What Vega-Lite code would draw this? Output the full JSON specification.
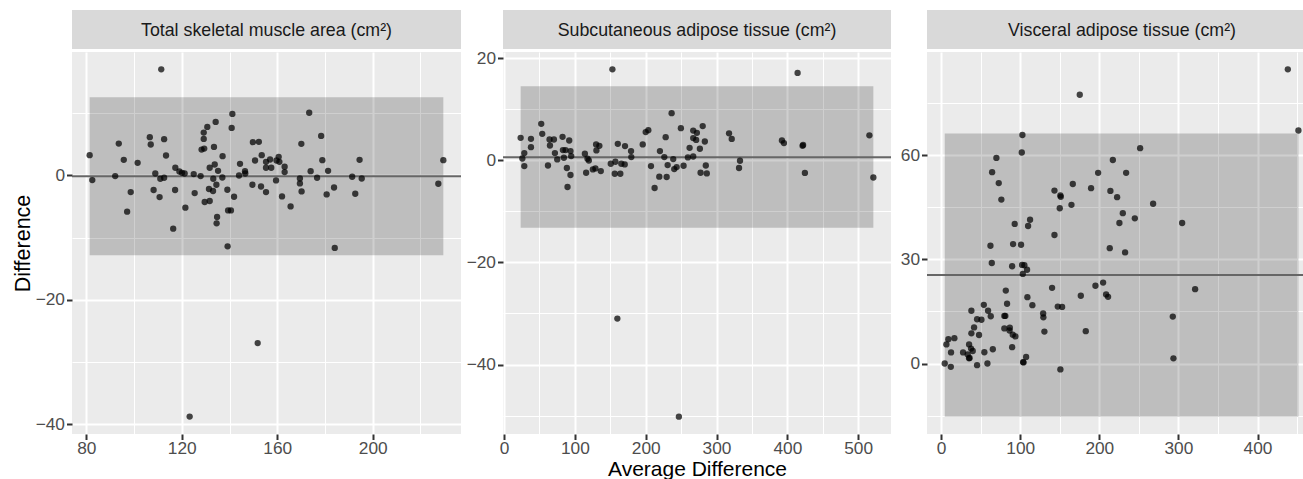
{
  "$schema": "https://vega.github.io/schema/vega-lite/v6.json",
  "padding": {"left": 12, "top": 10, "right": 0, "bottom": 0},
  "background": "white",
  "spacing": 0,
  "config": {
    "view": {"stroke": null},
    "axis": {
      "domain": false, "grid": true, "gridColor": "white",
      "tickColor": "#333333", "tickWidth": 2, "tickSize": 5.5,
      "labelFont": "Liberation Sans", "labelFontSize": 17.3, "labelColor": "#4D4D4D",
      "labelPadding": 3, "labelOverlap": false, "labelFlush": false,
      "titleFont": "Liberation Sans", "titleFontSize": 21.5, "titleFontWeight": "normal", "titleColor": "black"
    },
    "axisY": {"labelPadding": 2, "titlePadding": 1},
    "axisX": {"labelPadding": 0, "titlePadding": 2, "titleFontSize": 21},
    "text": {"font": "Liberation Sans", "fontSize": 17.8, "color": "#1A1A1A"}
  },
  "datasets": {
    "loa": [
      {"p": "A", "xmin": 81.4, "xmax": 229.6, "lo": -12.84, "hi": 12.58, "mean": -0.13},
      {"p": "B", "xmin": 23.4, "xmax": 521.5, "lo": -13.2, "hi": 14.5, "mean": 0.6},
      {"p": "C", "xmin": 4.6, "xmax": 451.7, "lo": -15.3, "hi": 66.2, "mean": 25.5}
    ],
    "tsm": [
      {"avg": 81.4, "diff": 3.27}, {"avg": 82.5, "diff": -0.74}, {"avg": 93.6, "diff": 5.14}, {"avg": 95.7, "diff": 2.52},
      {"avg": 92.1, "diff": -0.1}, {"avg": 98.6, "diff": -2.67}, {"avg": 97.1, "diff": -5.83}, {"avg": 101.5, "diff": 2.04},
      {"avg": 106.6, "diff": 6.16}, {"avg": 107.0, "diff": 4.98}, {"avg": 112.6, "diff": 5.84}, {"avg": 113.4, "diff": 3.21},
      {"avg": 108.9, "diff": 0.32}, {"avg": 111.0, "diff": -0.53}, {"avg": 112.6, "diff": -0.37}, {"avg": 108.2, "diff": -2.34},
      {"avg": 110.7, "diff": -3.47}, {"avg": 116.4, "diff": -8.56}, {"avg": 117.2, "diff": -2.34}, {"avg": 117.3, "diff": 1.24},
      {"avg": 119.0, "diff": 0.64}, {"avg": 120.1, "diff": 0.43}, {"avg": 121.2, "diff": 0.32}, {"avg": 121.5, "diff": -5.18},
      {"avg": 125.0, "diff": 0.22}, {"avg": 125.4, "diff": -2.83}, {"avg": 127.9, "diff": -0.1}, {"avg": 128.3, "diff": 4.17},
      {"avg": 129.4, "diff": 4.33}, {"avg": 129.2, "diff": 5.89}, {"avg": 129.2, "diff": 6.9}, {"avg": 130.7, "diff": 7.82},
      {"avg": 134.2, "diff": 8.62}, {"avg": 133.5, "diff": 4.6}, {"avg": 131.7, "diff": 1.24}, {"avg": 133.8, "diff": 1.77},
      {"avg": 135.2, "diff": 0.75}, {"avg": 133.2, "diff": -0.53}, {"avg": 134.5, "diff": -1.49}, {"avg": 131.4, "diff": -2.18},
      {"avg": 133.1, "diff": -2.5}, {"avg": 129.6, "diff": -4.27}, {"avg": 131.7, "diff": -4.11}, {"avg": 134.8, "diff": -6.68},
      {"avg": 134.6, "diff": -7.7}, {"avg": 137.1, "diff": 3.11}, {"avg": 137.0, "diff": -0.32}, {"avg": 139.1, "diff": -2.3},
      {"avg": 139.4, "diff": -5.62}, {"avg": 140.6, "diff": -5.62}, {"avg": 139.2, "diff": -11.4}, {"avg": 141.2, "diff": 9.9},
      {"avg": 140.9, "diff": 7.66}, {"avg": 141.9, "diff": -3.42}, {"avg": 144.4, "diff": 1.88}, {"avg": 144.0, "diff": 0.0},
      {"avg": 146.5, "diff": 0.7}, {"avg": 146.6, "diff": 0.32}, {"avg": 149.6, "diff": -1.49}, {"avg": 149.8, "diff": 5.36},
      {"avg": 152.3, "diff": 5.41}, {"avg": 150.7, "diff": 2.41}, {"avg": 153.5, "diff": 3.27}, {"avg": 153.2, "diff": -1.77},
      {"avg": 155.3, "diff": -2.67}, {"avg": 155.3, "diff": 2.2}, {"avg": 155.3, "diff": 1.24}, {"avg": 157.0, "diff": 2.57},
      {"avg": 157.5, "diff": 1.24}, {"avg": 159.7, "diff": 2.41}, {"avg": 160.6, "diff": 3.0}, {"avg": 160.9, "diff": 2.2},
      {"avg": 163.1, "diff": 1.4}, {"avg": 163.1, "diff": 0.54}, {"avg": 159.5, "diff": -0.8}, {"avg": 162.0, "diff": -3.37},
      {"avg": 165.6, "diff": -4.98}, {"avg": 169.5, "diff": -0.48}, {"avg": 169.5, "diff": -1.28}, {"avg": 170.2, "diff": -2.57},
      {"avg": 170.1, "diff": 5.09}, {"avg": 173.4, "diff": 10.1}, {"avg": 174.0, "diff": 0.7}, {"avg": 176.7, "diff": -0.37},
      {"avg": 178.4, "diff": 6.37}, {"avg": 178.9, "diff": 2.47}, {"avg": 181.3, "diff": 0.75}, {"avg": 180.7, "diff": -3.05},
      {"avg": 183.8, "diff": -1.93}, {"avg": 184.1, "diff": -11.65}, {"avg": 191.4, "diff": -0.21}, {"avg": 195.4, "diff": -0.48},
      {"avg": 194.5, "diff": 2.52}, {"avg": 192.7, "diff": -2.94}, {"avg": 229.6, "diff": 2.47}, {"avg": 227.5, "diff": -1.33},
      {"avg": 111.4, "diff": 17.08}, {"avg": 151.8, "diff": -26.97}, {"avg": 123.3, "diff": -38.8}
    ],
    "sat": [
      {"avg": 23.4, "diff": 4.39}, {"avg": 25.8, "diff": 0.35}, {"avg": 28.6, "diff": 1.4}, {"avg": 28.6, "diff": -1.13},
      {"avg": 38.0, "diff": 4.2}, {"avg": 38.0, "diff": 2.57}, {"avg": 52.5, "diff": 7.13}, {"avg": 53.9, "diff": 5.18},
      {"avg": 64.2, "diff": 4.06}, {"avg": 70.4, "diff": 4.06}, {"avg": 64.8, "diff": 2.89}, {"avg": 62.0, "diff": -1.02},
      {"avg": 71.8, "diff": 1.4}, {"avg": 75.1, "diff": 0.16}, {"avg": 82.6, "diff": 4.59}, {"avg": 92.0, "diff": 3.87},
      {"avg": 83.1, "diff": 1.99}, {"avg": 86.8, "diff": 1.99}, {"avg": 84.5, "diff": 0.49}, {"avg": 93.8, "diff": 1.8},
      {"avg": 94.8, "diff": 0.82}, {"avg": 88.7, "diff": -1.52}, {"avg": 93.8, "diff": -2.89}, {"avg": 89.6, "diff": -5.23},
      {"avg": 114.1, "diff": 1.27}, {"avg": 117.8, "diff": 0.29}, {"avg": 119.7, "diff": -0.04}, {"avg": 115.9, "diff": -2.44},
      {"avg": 125.4, "diff": -1.8}, {"avg": 129.0, "diff": -1.6}, {"avg": 136.6, "diff": -2.11}, {"avg": 130.0, "diff": 3.1},
      {"avg": 134.6, "diff": 2.83}, {"avg": 130.4, "diff": 1.93}, {"avg": 150.7, "diff": -0.68}, {"avg": 157.2, "diff": -0.29},
      {"avg": 165.6, "diff": -0.68}, {"avg": 170.4, "diff": -0.82}, {"avg": 156.3, "diff": -2.64}, {"avg": 164.2, "diff": -2.64},
      {"avg": 160.6, "diff": 3.22}, {"avg": 170.8, "diff": 2.77}, {"avg": 179.3, "diff": 1.8}, {"avg": 179.7, "diff": 0.62},
      {"avg": 195.8, "diff": 3.1}, {"avg": 200.0, "diff": 5.52}, {"avg": 203.7, "diff": 5.9}, {"avg": 207.5, "diff": -1.13},
      {"avg": 212.6, "diff": -5.43}, {"avg": 219.2, "diff": -3.22}, {"avg": 220.1, "diff": 1.8}, {"avg": 226.3, "diff": 0.62},
      {"avg": 228.2, "diff": 4.53}, {"avg": 229.6, "diff": -3.28}, {"avg": 231.0, "diff": -0.94}, {"avg": 236.6, "diff": 9.22},
      {"avg": 238.9, "diff": 0.23}, {"avg": 240.3, "diff": -1.72}, {"avg": 243.7, "diff": -1.33}, {"avg": 249.7, "diff": 6.29},
      {"avg": 253.5, "diff": -1.07}, {"avg": 259.6, "diff": 0.55}, {"avg": 262.0, "diff": 2.44}, {"avg": 267.1, "diff": 5.82},
      {"avg": 267.1, "diff": 4.34}, {"avg": 272.3, "diff": 5.37}, {"avg": 271.3, "diff": 3.98}, {"avg": 267.1, "diff": 0.74},
      {"avg": 276.5, "diff": 2.25}, {"avg": 277.5, "diff": -2.44}, {"avg": 280.5, "diff": 6.7}, {"avg": 283.5, "diff": 3.67},
      {"avg": 284.9, "diff": -1.02}, {"avg": 286.3, "diff": -2.58}, {"avg": 317.7, "diff": 5.27}, {"avg": 321.5, "diff": 4.18},
      {"avg": 333.2, "diff": -0.1}, {"avg": 331.8, "diff": -1.52}, {"avg": 392.4, "diff": 3.87}, {"avg": 395.2, "diff": 3.36},
      {"avg": 421.5, "diff": 2.83}, {"avg": 422.3, "diff": 3.0}, {"avg": 424.8, "diff": -2.48}, {"avg": 515.9, "diff": 4.88},
      {"avg": 521.5, "diff": -3.38}, {"avg": 153.0, "diff": 17.8}, {"avg": 414.5, "diff": 17.1}, {"avg": 160.0, "diff": -31.0},
      {"avg": 246.9, "diff": -50.2}
    ],
    "vat": [
      {"avg": 175.3, "diff": 77.4}, {"avg": 102.8, "diff": 65.8}, {"avg": 102.0, "diff": 60.75}, {"avg": 69.9, "diff": 59.2},
      {"avg": 64.5, "diff": 55.1}, {"avg": 72.9, "diff": 51.95}, {"avg": 76.2, "diff": 47.2}, {"avg": 93.1, "diff": 40.2},
      {"avg": 112.5, "diff": 41.4}, {"avg": 110.0, "diff": 39.6}, {"avg": 143.3, "diff": 49.8}, {"avg": 150.8, "diff": 48.4},
      {"avg": 151.3, "diff": 48.0}, {"avg": 150.0, "diff": 44.7}, {"avg": 166.5, "diff": 51.7}, {"avg": 164.8, "diff": 45.7},
      {"avg": 143.3, "diff": 37.0}, {"avg": 62.4, "diff": 33.9}, {"avg": 91.0, "diff": 34.4}, {"avg": 101.1, "diff": 34.2},
      {"avg": 64.1, "diff": 28.95}, {"avg": 89.8, "diff": 28.0}, {"avg": 102.4, "diff": 28.4}, {"avg": 105.3, "diff": 28.3},
      {"avg": 108.7, "diff": 27.0}, {"avg": 103.3, "diff": 25.8}, {"avg": 198.5, "diff": 54.9}, {"avg": 217.1, "diff": 58.6},
      {"avg": 189.6, "diff": 50.5}, {"avg": 214.0, "diff": 49.7}, {"avg": 222.5, "diff": 47.9}, {"avg": 233.9, "diff": 54.9},
      {"avg": 229.7, "diff": 43.3}, {"avg": 225.4, "diff": 40.45}, {"avg": 213.2, "diff": 33.2}, {"avg": 232.6, "diff": 32.0},
      {"avg": 204.8, "diff": 23.3}, {"avg": 195.1, "diff": 22.4}, {"avg": 176.6, "diff": 19.5}, {"avg": 208.6, "diff": 19.9},
      {"avg": 211.1, "diff": 19.2}, {"avg": 140.3, "diff": 21.8}, {"avg": 81.8, "diff": 21.0}, {"avg": 109.1, "diff": 19.1},
      {"avg": 115.4, "diff": 16.8}, {"avg": 83.4, "diff": 17.2}, {"avg": 54.0, "diff": 16.9}, {"avg": 38.3, "diff": 15.2},
      {"avg": 59.4, "diff": 15.2}, {"avg": 62.8, "diff": 13.6}, {"avg": 45.5, "diff": 12.75}, {"avg": 51.0, "diff": 12.6},
      {"avg": 80.0, "diff": 13.7}, {"avg": 81.2, "diff": 13.7}, {"avg": 129.0, "diff": 14.4}, {"avg": 129.3, "diff": 13.3},
      {"avg": 147.5, "diff": 16.4}, {"avg": 153.0, "diff": 16.3}, {"avg": 41.7, "diff": 10.4}, {"avg": 38.3, "diff": 8.7},
      {"avg": 48.0, "diff": 8.2}, {"avg": 80.0, "diff": 10.1}, {"avg": 86.9, "diff": 10.3}, {"avg": 86.5, "diff": 9.5},
      {"avg": 90.6, "diff": 8.3}, {"avg": 93.9, "diff": 7.8}, {"avg": 130.6, "diff": 9.2}, {"avg": 182.9, "diff": 9.3},
      {"avg": 9.2, "diff": 7.0}, {"avg": 16.8, "diff": 7.3}, {"avg": 6.7, "diff": 5.5}, {"avg": 12.6, "diff": 3.2},
      {"avg": 35.4, "diff": 5.5}, {"avg": 37.9, "diff": 4.3}, {"avg": 40.0, "diff": 3.6}, {"avg": 27.8, "diff": 3.2},
      {"avg": 33.7, "diff": 2.6}, {"avg": 35.4, "diff": 1.5}, {"avg": 36.0, "diff": 1.6}, {"avg": 54.7, "diff": 3.25},
      {"avg": 65.4, "diff": 4.1}, {"avg": 89.8, "diff": 4.7}, {"avg": 4.6, "diff": 0.0}, {"avg": 12.3, "diff": -0.96},
      {"avg": 45.5, "diff": -0.48}, {"avg": 58.6, "diff": 0.0}, {"avg": 107.5, "diff": 1.9}, {"avg": 103.7, "diff": 0.4},
      {"avg": 104.2, "diff": 0.3}, {"avg": 150.8, "diff": -1.7}, {"avg": 438.3, "diff": 84.7}, {"avg": 451.7, "diff": 67.1},
      {"avg": 251.6, "diff": 62.0}, {"avg": 268.0, "diff": 46.0}, {"avg": 244.9, "diff": 41.8}, {"avg": 304.7, "diff": 40.45},
      {"avg": 321.1, "diff": 21.4}, {"avg": 292.9, "diff": 13.5}, {"avg": 293.7, "diff": 1.5}
    ]
  },
  "vconcat": [
    {
      "spacing": 42, "bounds": "flush",
      "hconcat": [
        {"width": 389, "height": 39, "view": {"fill": "#D9D9D9", "stroke": null},
         "data": {"values": [{"label": "Total skeletal muscle area (cm²)"}]},
         "mark": {"type": "text", "baseline": "middle", "dy": 1.5},
         "encoding": {"text": {"field": "label"}}},
        {"spacing": 36, "bounds": "flush",
         "hconcat": [
          {"width": 388, "height": 39, "view": {"fill": "#D9D9D9", "stroke": null},
           "data": {"values": [{"label": "Subcutaneous adipose tissue (cm²)"}]},
           "mark": {"type": "text", "baseline": "middle", "dy": 1.5},
           "encoding": {"text": {"field": "label"}}},
          {"width": 378, "height": 39, "view": {"fill": "#D9D9D9", "stroke": null},
           "data": {"values": [{"label": "Visceral adipose tissue (cm²)"}]},
           "mark": {"type": "text", "baseline": "middle", "dy": 1.5, "dx": 6},
           "encoding": {"text": {"field": "label"}}}
         ]}
      ]
    },
    {
      "spacing": 42, "bounds": "flush",
      "hconcat": [
        {"width": 389, "height": 382, "view": {"fill": "#EBEBEB", "stroke": null},
         "layer": [
          {"data": {"name": "loa"}, "transform": [{"filter": "datum.p === 'A'"}],
           "mark": {"type": "rect", "color": "black", "opacity": 0.19},
           "encoding": {
             "x": {"field": "xmin", "type": "quantitative", "scale": {"domain": [74.0, 237.0], "nice": false, "zero": false},
                   "axis": {"title": null, "values": [80, 100, 120, 140, 160, 180, 200, 220],
                            "labelExpr": "datum.value % 40 === 0 ? datum.label : ''",
                            "gridWidth": {"condition": {"test": "datum.value % 40 === 0", "value": 2}, "value": 1},
                            "tickOpacity": {"condition": {"test": "datum.value % 40 === 0", "value": 1}, "value": 0}}},
             "x2": {"field": "xmax"},
             "y": {"field": "lo", "type": "quantitative", "scale": {"domain": [-41.6, 19.87], "nice": false, "zero": false},
                   "axis": {"title": "Difference", "values": [-40, -30, -20, -10, 0, 10],
                            "labelExpr": "datum.value % 20 === 0 ? datum.label : ''",
                            "gridWidth": {"condition": {"test": "datum.value % 20 === 0", "value": 2}, "value": 1},
                            "tickOpacity": {"condition": {"test": "datum.value % 20 === 0", "value": 1}, "value": 0}}},
             "y2": {"field": "hi"}}},
          {"data": {"name": "loa"}, "transform": [{"filter": "datum.p === 'A'"}],
           "mark": {"type": "rule", "color": "#666666", "strokeWidth": 2},
           "encoding": {"y": {"field": "mean", "type": "quantitative", "scale": {"domain": [-41.6, 19.87], "nice": false, "zero": false},
                   "axis": {"title": "Difference", "values": [-40, -30, -20, -10, 0, 10],
                            "labelExpr": "datum.value % 20 === 0 ? datum.label : ''",
                            "gridWidth": {"condition": {"test": "datum.value % 20 === 0", "value": 2}, "value": 1},
                            "tickOpacity": {"condition": {"test": "datum.value % 20 === 0", "value": 1}, "value": 0}}}}},
          {"data": {"name": "tsm"},
           "mark": {"type": "circle", "color": "black", "opacity": 0.72, "size": 40},
           "encoding": {
             "x": {"field": "avg", "type": "quantitative", "scale": {"domain": [74.0, 237.0], "nice": false, "zero": false},
                   "axis": {"title": null, "values": [80, 100, 120, 140, 160, 180, 200, 220],
                            "labelExpr": "datum.value % 40 === 0 ? datum.label : ''",
                            "gridWidth": {"condition": {"test": "datum.value % 40 === 0", "value": 2}, "value": 1},
                            "tickOpacity": {"condition": {"test": "datum.value % 40 === 0", "value": 1}, "value": 0}}},
             "y": {"field": "diff", "type": "quantitative", "scale": {"domain": [-41.6, 19.87], "nice": false, "zero": false},
                   "axis": {"title": "Difference", "values": [-40, -30, -20, -10, 0, 10],
                            "labelExpr": "datum.value % 20 === 0 ? datum.label : ''",
                            "gridWidth": {"condition": {"test": "datum.value % 20 === 0", "value": 2}, "value": 1},
                            "tickOpacity": {"condition": {"test": "datum.value % 20 === 0", "value": 1}, "value": 0}}}}}
         ]},
        {"spacing": 36, "bounds": "flush",
         "hconcat": [
          {"width": 388, "height": 382, "view": {"fill": "#EBEBEB", "stroke": null},
           "layer": [
            {"data": {"name": "loa"}, "transform": [{"filter": "datum.p === 'B'"}],
             "mark": {"type": "rect", "color": "black", "opacity": 0.19},
             "encoding": {
               "x": {"field": "xmin", "type": "quantitative", "scale": {"domain": [-1.5, 546.4], "nice": false, "zero": false},
                     "axis": {"title": "Average Difference", "values": [0, 50, 100, 150, 200, 250, 300, 350, 400, 450, 500],
                              "labelExpr": "datum.value % 100 === 0 ? datum.label : ''",
                              "gridWidth": {"condition": {"test": "datum.value % 100 === 0", "value": 2}, "value": 1},
                              "tickOpacity": {"condition": {"test": "datum.value % 100 === 0", "value": 1}, "value": 0}}},
               "x2": {"field": "xmax"},
               "y": {"field": "lo", "type": "quantitative", "scale": {"domain": [-53.6, 21.2], "nice": false, "zero": false},
                     "axis": {"title": null, "values": [-50, -40, -30, -20, -10, 0, 10, 20],
                              "labelExpr": "datum.value % 20 === 0 ? datum.label : ''",
                              "gridWidth": {"condition": {"test": "datum.value % 20 === 0", "value": 2}, "value": 1},
                              "tickOpacity": {"condition": {"test": "datum.value % 20 === 0", "value": 1}, "value": 0}}},
               "y2": {"field": "hi"}}},
            {"data": {"name": "loa"}, "transform": [{"filter": "datum.p === 'B'"}],
             "mark": {"type": "rule", "color": "#666666", "strokeWidth": 2},
             "encoding": {"y": {"field": "mean", "type": "quantitative", "scale": {"domain": [-53.6, 21.2], "nice": false, "zero": false},
                     "axis": {"title": null, "values": [-50, -40, -30, -20, -10, 0, 10, 20],
                              "labelExpr": "datum.value % 20 === 0 ? datum.label : ''",
                              "gridWidth": {"condition": {"test": "datum.value % 20 === 0", "value": 2}, "value": 1},
                              "tickOpacity": {"condition": {"test": "datum.value % 20 === 0", "value": 1}, "value": 0}}}}},
            {"data": {"name": "sat"},
             "mark": {"type": "circle", "color": "black", "opacity": 0.72, "size": 40},
             "encoding": {
               "x": {"field": "avg", "type": "quantitative", "scale": {"domain": [-1.5, 546.4], "nice": false, "zero": false},
                     "axis": {"title": "Average Difference", "values": [0, 50, 100, 150, 200, 250, 300, 350, 400, 450, 500],
                              "labelExpr": "datum.value % 100 === 0 ? datum.label : ''",
                              "gridWidth": {"condition": {"test": "datum.value % 100 === 0", "value": 2}, "value": 1},
                              "tickOpacity": {"condition": {"test": "datum.value % 100 === 0", "value": 1}, "value": 0}}},
               "y": {"field": "diff", "type": "quantitative", "scale": {"domain": [-53.6, 21.2], "nice": false, "zero": false},
                     "axis": {"title": null, "values": [-50, -40, -30, -20, -10, 0, 10, 20],
                              "labelExpr": "datum.value % 20 === 0 ? datum.label : ''",
                              "gridWidth": {"condition": {"test": "datum.value % 20 === 0", "value": 2}, "value": 1},
                              "tickOpacity": {"condition": {"test": "datum.value % 20 === 0", "value": 1}, "value": 0}}}}}
           ]},
          {"width": 378, "height": 382, "view": {"fill": "#EBEBEB", "stroke": null},
           "layer": [
            {"data": {"name": "loa"}, "transform": [{"filter": "datum.p === 'C'"}],
             "mark": {"type": "rect", "color": "black", "opacity": 0.19},
             "encoding": {
               "x": {"field": "xmin", "type": "quantitative", "scale": {"domain": [-17.8, 460.0], "nice": false, "zero": false},
                     "axis": {"title": null, "values": [0, 50, 100, 150, 200, 250, 300, 350, 400, 450],
                              "labelExpr": "datum.value % 100 === 0 ? datum.label : ''",
                              "gridWidth": {"condition": {"test": "datum.value % 100 === 0", "value": 2}, "value": 1},
                              "tickOpacity": {"condition": {"test": "datum.value % 100 === 0", "value": 1}, "value": 0}}},
               "x2": {"field": "xmax"},
               "y": {"field": "lo", "type": "quantitative", "scale": {"domain": [-20.3, 89.7], "nice": false, "zero": false},
                     "axis": {"title": null, "values": [-15, 0, 15, 30, 45, 60, 75],
                              "labelExpr": "datum.value % 30 === 0 ? datum.label : ''",
                              "gridWidth": {"condition": {"test": "datum.value % 30 === 0", "value": 2}, "value": 1},
                              "tickOpacity": {"condition": {"test": "datum.value % 30 === 0", "value": 1}, "value": 0}}},
               "y2": {"field": "hi"}}},
            {"data": {"name": "loa"}, "transform": [{"filter": "datum.p === 'C'"}],
             "mark": {"type": "rule", "color": "#666666", "strokeWidth": 2},
             "encoding": {"y": {"field": "mean", "type": "quantitative", "scale": {"domain": [-20.3, 89.7], "nice": false, "zero": false},
                     "axis": {"title": null, "values": [-15, 0, 15, 30, 45, 60, 75],
                              "labelExpr": "datum.value % 30 === 0 ? datum.label : ''",
                              "gridWidth": {"condition": {"test": "datum.value % 30 === 0", "value": 2}, "value": 1},
                              "tickOpacity": {"condition": {"test": "datum.value % 30 === 0", "value": 1}, "value": 0}}}}},
            {"data": {"name": "vat"},
             "mark": {"type": "circle", "color": "black", "opacity": 0.72, "size": 40},
             "encoding": {
               "x": {"field": "avg", "type": "quantitative", "scale": {"domain": [-17.8, 460.0], "nice": false, "zero": false},
                     "axis": {"title": null, "values": [0, 50, 100, 150, 200, 250, 300, 350, 400, 450],
                              "labelExpr": "datum.value % 100 === 0 ? datum.label : ''",
                              "gridWidth": {"condition": {"test": "datum.value % 100 === 0", "value": 2}, "value": 1},
                              "tickOpacity": {"condition": {"test": "datum.value % 100 === 0", "value": 1}, "value": 0}}},
               "y": {"field": "diff", "type": "quantitative", "scale": {"domain": [-20.3, 89.7], "nice": false, "zero": false},
                     "axis": {"title": null, "values": [-15, 0, 15, 30, 45, 60, 75],
                              "labelExpr": "datum.value % 30 === 0 ? datum.label : ''",
                              "gridWidth": {"condition": {"test": "datum.value % 30 === 0", "value": 2}, "value": 1},
                              "tickOpacity": {"condition": {"test": "datum.value % 30 === 0", "value": 1}, "value": 0}}}}}
           ]}
         ]}
      ]
    }
  ]
}
